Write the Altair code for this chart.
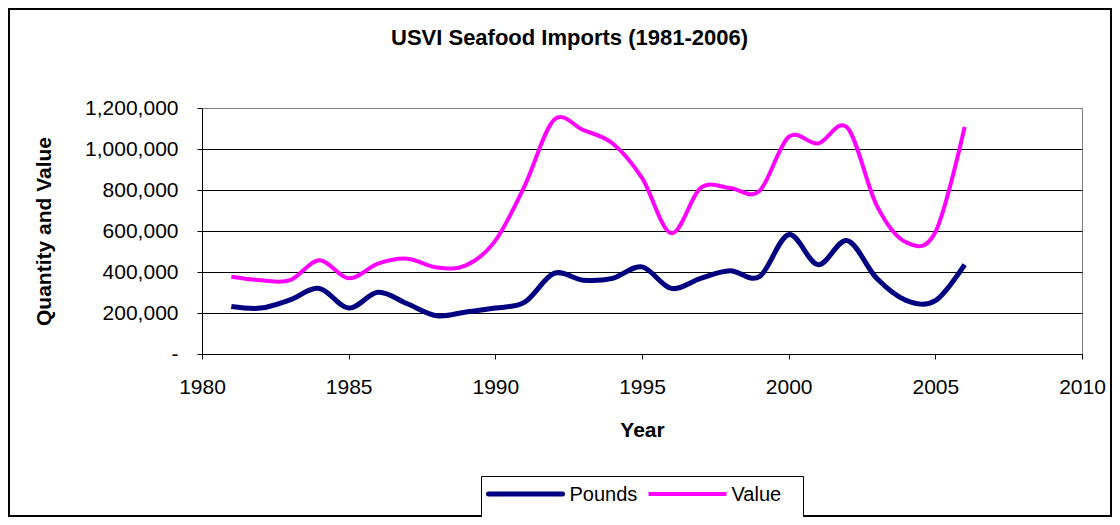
import altair as alt
import pandas as pd

years = list(range(1981, 2007))
pounds = [232000, 224000, 264000, 320000, 224000, 301000, 245000, 187000, 205000, 224000,
          253000, 393000, 360000, 369000, 425000, 320000, 369000, 406000, 377000, 582000,
          436000, 553000, 369000, 262000, 260000, 436000]
value = [377000, 360000, 360000, 457000, 369000, 441000, 465000, 422000, 432000, 553000,
         820000, 1142000, 1092000, 1027000, 859000, 589000, 810000, 810000, 795000, 1059000,
         1027000, 1104000, 725000, 545000, 594000, 1107000]
series_names = ["Pounds", "Value"]
series_colors = ["#000080", "#FF00FF"]
series_widths = [5, 4]
x_ticks = [1980, 1985, 1990, 1995, 2000, 2005, 2010]
y_ticks = [0, 200000, 400000, 600000, 800000, 1000000, 1200000]
title_text = "USVI Seafood Imports (1981-2006)"

df = pd.DataFrame({
    "Year": years * 2,
    "Amount": pounds + value,
    "Series": [series_names[0]] * len(years) + [series_names[1]] * len(years),
})

FONT = "Liberation Sans"

lines = alt.Chart(df).mark_line(interpolate="cardinal").encode(
    x=alt.X("Year:Q",
            scale=alt.Scale(domain=[1980, 2010], nice=False, zero=False),
            axis=alt.Axis(values=x_ticks, format="d", title="Year", grid=False,
                          labelFlush=False, labelBaseline="alphabetic", labelPadding=34,
                          tickSize=5, titleBaseline="alphabetic", titleY=82)),
    y=alt.Y("Amount:Q",
            scale=alt.Scale(domain=[0, 1200000], nice=False),
            axis=alt.Axis(values=y_ticks, title="Quantity and Value",
                          labelExpr="datum.value == 0 ? '-\u00a0\u00a0\u00a0\u00a0' : format(datum.value, ',')",
                          labelPadding=19, tickSize=5, grid=True, labelFlush=False,
                          gridColor={"condition": {"test": "datum.value === 1200000", "value": "#808080"},
                                     "value": "black"},
                          titleAngle=-90, titleBaseline="alphabetic", titleAlign="center",
                          titleX=-152, titleY=123)),
    color=alt.Color("Series:N",
                    scale=alt.Scale(domain=series_names, range=series_colors),
                    legend=None),
    strokeWidth=alt.StrokeWidth("Series:N",
                                scale=alt.Scale(domain=series_names, range=series_widths),
                                legend=None),
)

one = pd.DataFrame({"k": [0]})

frame = alt.Chart(one).mark_rect(
    fillOpacity=0, stroke="black", strokeWidth=2
).encode(
    x=alt.value(-193), x2=alt.value(909), y=alt.value(-99), y2=alt.value(408)
)

title = alt.Chart(pd.DataFrame({"t": [title_text]})).mark_text(
    font=FONT, fontSize=22, fontWeight="bold", color="black",
    align="center", baseline="alphabetic"
).encode(text="t:N", x=alt.value(367.5), y=alt.value(-63))

# manual legend (Excel style box)
legend_box = alt.Chart(one).mark_rect(
    fill="white", stroke="black", strokeWidth=1
).encode(
    x=alt.value(279.5), x2=alt.value(601.5), y=alt.value(368.5), y2=alt.value(409.5)
)
legend_line_starts = [286.5, 446.5]
legend_text_starts = [367.5, 529.5]
legend_line_len = [74, 78]
legend_layers = [legend_box]
for i, name in enumerate(series_names):
    x0 = legend_line_starts[i]
    legend_layers.append(
        alt.Chart(one).mark_rule(color=series_colors[i], strokeWidth=series_widths[i],
                                 strokeCap="round" if i == 0 else "butt").encode(
            x=alt.value(x0), x2=alt.value(x0 + legend_line_len[i]), y=alt.value(386)
        )
    )
    legend_layers.append(
        alt.Chart(pd.DataFrame({"t": [name]})).mark_text(
            font=FONT, fontSize=20, color="black", align="left", baseline="middle"
        ).encode(text="t:N", x=alt.value(legend_text_starts[i]), y=alt.value(387))
    )

chart = alt.layer(frame, lines, title, *legend_layers).properties(
    width=880, height=246,
    autosize=alt.AutoSizeParams(type="none"),
    padding={"left": 194, "top": 100, "right": 30, "bottom": 163},
).configure(
    font=FONT, background="white"
).configure_view(
    stroke="#808080", strokeWidth=1
).configure_axis(
    domainColor="black", domainWidth=1, tickColor="black", tickWidth=1,
    labelFont=FONT, labelFontSize=21, labelColor="black",
    titleFont=FONT, titleFontSize=21, titleFontWeight="bold", titleColor="black",
)

chart.save("out.html", embed_options={"renderer": "svg", "actions": False})
